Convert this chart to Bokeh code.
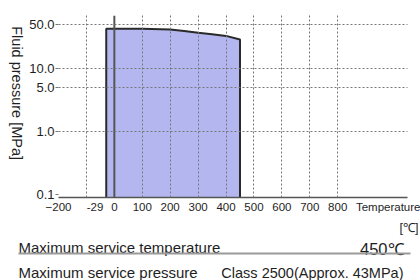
import math
from bokeh.plotting import figure
from bokeh.layouts import row, column
from bokeh.models import FixedTicker, Range1d, Span
from bokeh.core.properties import value
from bokeh.embed import file_html
from bokeh.resources import INLINE

# ---- data ----
temps = [-29, 0, 100, 200, 250, 300, 350, 400, 450]
press = [43, 43, 43, 41.5, 39.5, 37, 35, 33, 29]
x_ticks = [-200, -29, 0, 100, 200, 300, 400, 500, 600, 700, 800]
x_grid = [-200, -100, 100, 200, 300, 400, 500, 600, 700, 800]
y_ticks = [0.1, 1.0, 5.0, 10.0, 50.0]
y_tick_labels = ["0.1", "1.0", "5.0", "10.0", "50.0"]
y_min, y_max = 0.09, 69.5
x_min, x_max = -200, 1050
x_unit_label = "Temperature"
x_unit = "[\u2103]"
y_label = "Fluid pressure [MPa]"
row1 = ("Maximum service temperature", "450\u2103")
row2 = ("Maximum service pressure", "Class 2500(Approx. 43MPa)")

SANS = "'Liberation Sans', Arial, sans-serif"
INK = "#1e1e1e"


def blank(w, h):
    f = figure(width=w, height=h, output_backend="svg", toolbar_location=None,
               x_range=Range1d(0, w), y_range=Range1d(0, h), min_border=0)
    f.axis.visible = False
    f.grid.visible = False
    f.outline_line_color = None
    return f


# ---- main chart ----
p = figure(width=394, height=220, output_backend="svg", toolbar_location=None,
           y_axis_type="log", x_range=Range1d(x_min, x_max),
           y_range=Range1d(y_min, y_max),
           min_border_left=32, min_border_right=13, min_border_top=15,
           min_border_bottom=23)
p.outline_line_color = None

p.varea(x=temps, y1=[y_min] * len(temps), y2=press, fill_color="#b4b7ef")
p.line(x=[temps[0]] + temps + [temps[-1]], y=[y_min] + press + [y_min],
       line_color="#2a2a2a", line_width=2)
p.add_layout(Span(location=0, dimension="height", line_color="#555555", line_width=2))

unit_pos = 1005
p.xaxis.ticker = FixedTicker(ticks=x_ticks + [unit_pos])
p.xaxis.major_label_overrides = {-29: "-29" + "\u00a0" * 7, unit_pos: x_unit_label}
p.xaxis.axis_line_color = "#555555"
p.xaxis.axis_line_width = 1.5
p.xaxis.major_tick_line_color = None
p.xaxis.major_tick_out = 0
p.xaxis.major_tick_in = 0
p.xaxis.minor_tick_line_color = None
p.xaxis.minor_tick_out = 0
p.xaxis.major_label_standoff = 3
p.xaxis.major_label_text_font = SANS
p.xaxis.major_label_text_font_size = "11.5px"
p.xaxis.major_label_text_color = INK

p.yaxis.ticker = FixedTicker(ticks=y_ticks)
p.yaxis.major_label_overrides = {t: s for t, s in zip(y_ticks, y_tick_labels)}
p.yaxis.axis_line_color = None
p.yaxis.major_tick_line_color = "#777777"
p.yaxis.major_tick_out = 3
p.yaxis.major_tick_in = 0
p.yaxis.minor_tick_line_color = None
p.yaxis.major_label_standoff = 1
p.yaxis.major_label_text_font = SANS
p.yaxis.major_label_text_font_size = "13px"
p.yaxis.major_label_text_color = INK

p.xgrid.ticker = FixedTicker(ticks=x_grid)
p.ygrid.ticker = FixedTicker(ticks=y_ticks[1:])
for g in (p.xgrid, p.ygrid):
    g.grid_line_color = "#777777"
    g.grid_line_dash = "2 2"
    g.grid_line_width = 1
    g.level = "overlay"

# ---- y label strip ----
yl = blank(26, 220)
yl.text(x=[16], y=[207], text=[y_label], angle=-math.pi / 2,
        text_align="left", text_baseline="middle", text_font=value(SANS),
        text_font_size="14.5px", text_color=INK)

# ---- bottom table ----
bt = blank(420, 60)
bt.text(x=[418], y=[60], text=[x_unit], text_align="right", text_baseline="top",
        text_font=value(SANS), text_font_size="12.5px", text_color=INK)
bt.text(x=[18, 18], y=[33, 8], text=[row1[0], row2[0]], text_align="left",
        text_baseline="alphabetic", text_font=value(SANS), text_font_size="15px",
        text_color=INK)
bt.text(x=[403], y=[32], text=[row1[1]], text_align="right",
        text_baseline="alphabetic", text_font=value(SANS), text_font_size="16.5px",
        text_color=INK)
bt.text(x=[403], y=[8], text=[row2[1]], text_align="right",
        text_baseline="alphabetic", text_font=value(SANS), text_font_size="14.5px",
        text_color=INK)
bt.line(x=[18, 410], y=[27, 27], line_color="#9a9a9a", line_width=2)

layout = column(row(yl, p, spacing=0), bt, spacing=0)

open("out.html", "w").write(file_html(layout, INLINE))
